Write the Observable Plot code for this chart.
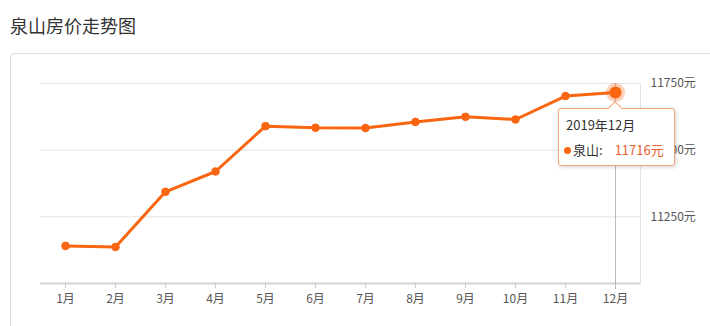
<!DOCTYPE html>
<html>
<head>
<meta charset="utf-8">
<script src="https://cdn.jsdelivr.net/npm/d3@7"></script>
<script src="https://cdn.jsdelivr.net/npm/@observablehq/plot@0.6"></script>
<style>
  html, body { margin: 0; padding: 0; background: #fff; overflow: hidden; }
  body { width: 710px; height: 326px; position: relative; font-family: "Noto Sans CJK SC", "Noto Sans", sans-serif; }
  #title { position: absolute; left: 10px; top: 12px; font-size: 18px; line-height: 26px; color: #333; }
  #panel { position: absolute; left: 10px; top: 53px; width: 720px; height: 300px; border: 1px solid #ddd; border-radius: 4px; box-sizing: border-box; }
  #chart { position: absolute; left: 0; top: 0; }
  #tip { position: absolute; background: #fff; border: 1px solid #f2a675; border-radius: 3px; box-shadow: 1px 1px 4px rgba(0,0,0,0.18); box-sizing: border-box; width: 117px; height: 58px; font-size: 13px; color: #333; }
  #tip .arrow { position: absolute; width: 9px; height: 9px; background: #fff; border-left: 1px solid #f2a675; border-top: 1px solid #f2a675; transform: rotate(45deg); top: -6px; }
  #tip .l1 { position: absolute; left: 7px; top: 6px; line-height: 20px; }
  #tip .l2 { position: absolute; left: 5px; top: 31px; line-height: 20px; white-space: nowrap; }
  #tip .dot { display: inline-block; width: 7px; height: 7px; border-radius: 50%; background: #f96510; margin-right: 2px; vertical-align: 1px; }
  #tip .val { color: #e8612c; margin-left: 12px; }
</style>
</head>
<body>
<div id="title">泉山房价走势图</div>
<div id="panel"></div>
<div id="chart"></div>
<script>
const months = ["1月","2月","3月","4月","5月","6月","7月","8月","9月","10月","11月","12月"];
const prices = [11141, 11137, 11344, 11420, 11590, 11584, 11583, 11606, 11625, 11615, 11703, 11716];
const yTicks = [11250, 11500, 11750];
const yDomain = [11000, 11750];
const seriesName = "泉山";
const tipTitle = "2019年12月";
const highlightIndex = 11;

const data = months.map((m, i) => ({month: m, price: prices[i]}));
const hl = [data[highlightIndex]];
const color = "#f96510";

const plot = Plot.plot({
  width: 710,
  height: 326,
  marginTop: 83,
  marginBottom: 43,
  marginLeft: 40,
  marginRight: 70,
  style: {fontFamily: '"Noto Sans CJK SC", "Noto Sans", sans-serif', fontSize: "12px", background: "transparent", overflow: "visible"},
  x: {type: "point", domain: months, padding: 0.5},
  y: {domain: yDomain},
  marks: [
    Plot.gridY(yTicks, {stroke: "#e3e3e3", strokeOpacity: 1}),
    Plot.frame({anchor: "right", stroke: "#e3e3e3", strokeOpacity: 1}),
    Plot.ruleY([yDomain[0]], {stroke: "#d3d3d3", strokeWidth: 2}),
    Plot.axisX({tickSize: 5, stroke: "#cfcfcf", tickPadding: 6, fill: "#555", fontSize: 12, label: null}),
    Plot.axisY(yTicks, {anchor: "right", tickSize: 0, tickPadding: 10, textAnchor: "start", tickFormat: d => d + "元", fill: "#555", fontSize: 12, label: null}),
    Plot.ruleX(hl, {x: "month", y1: yDomain[1], y2: yDomain[0], stroke: "#bbb", strokeWidth: 1, insetBottom: -6}),
    Plot.line(data, {x: "month", y: "price", stroke: color, strokeWidth: 3}),
    Plot.dot(data, {x: "month", y: "price", r: 3.8, fill: color, stroke: color, strokeWidth: 1}),
    Plot.dot(hl, {x: "month", y: "price", r: 9.5, fill: color, fillOpacity: 0.3}),
    Plot.dot(hl, {x: "month", y: "price", r: 6, fill: color})
  ]
});
document.getElementById("chart").appendChild(plot);

// tooltip positioned from the plot's own scales
const px = plot.scale("x").apply(data[highlightIndex].month);
const py = plot.scale("y").apply(data[highlightIndex].price);
const tip = document.createElement("div");
tip.id = "tip";
tip.innerHTML = `<div class="arrow"></div><div class="l1">${tipTitle}</div><div class="l2"><span class="dot"></span>${seriesName}:<span class="val">${data[highlightIndex].price}元</span></div>`;
const left = px - 57;
tip.style.left = left + "px";
tip.style.top = (py + 16) + "px";
document.body.appendChild(tip);
tip.querySelector(".arrow").style.left = (px - left - 6) + "px";
</script>
</body>
</html>
